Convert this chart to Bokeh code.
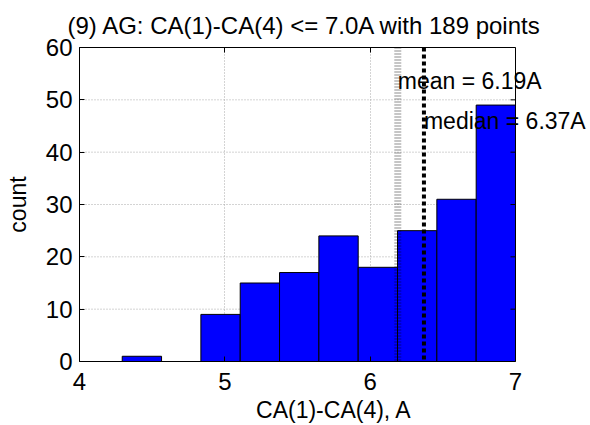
import numpy as np
from bokeh.plotting import figure
from bokeh.models import LinearAxis, Span, Label, FixedTicker, ColumnDataSource
from bokeh.embed import file_html
from bokeh.resources import INLINE

# ---- data ----
counts = [1, 0, 9, 15, 17, 24, 18, 25, 31, 49]
x_min = 4.294
x_max = 7.0
mean_val = 6.19
median_val = 6.37
mean_label_y = 53.6
median_label_y = 46.0
title_text = "(9) AG: CA(1)-CA(4) <= 7.0A with 189 points"
x_label = "CA(1)-CA(4), A"
y_label = "count"
x_ticks = [4, 5, 6, 7]
y_ticks = [0, 10, 20, 30, 40, 50, 60]

FONT = "Liberation Sans"

# layout (pixels): axes box 436 px wide, frame extended to the right so
# the median annotation can run past the box as in the reference
BOX_W = 436
FRAME_W = 509
x_lo, x_hi = x_ticks[0], x_ticks[-1]
x_end = x_lo + (x_hi - x_lo) * FRAME_W / BOX_W
px = (x_end - x_lo) / FRAME_W  # data units per pixel

edges = np.linspace(x_min, x_max, len(counts) + 1)
src = ColumnDataSource(dict(left=edges[:-1], right=edges[1:],
                            top=counts, bottom=[0] * len(counts)))

p = figure(frame_width=FRAME_W, frame_height=314, x_range=(x_lo, x_end),
           y_range=(y_ticks[0], y_ticks[-1]),
           output_backend="svg", toolbar_location=None,
           min_border_left=79, min_border_right=0,
           min_border_top=47, min_border_bottom=62,
           background_fill_color="white", border_fill_color="white")
p.outline_line_color = None

# horizontal dotted grid lines (limited to the box)
gy = y_ticks[1:-1]
p.segment(x0=[x_lo] * len(gy), x1=[x_hi] * len(gy), y0=gy, y1=gy,
          line_color="#a8a8a8", line_dash="1 2", line_width=1)

p.quad(left="left", right="right", top="top", bottom="bottom", source=src,
       fill_color="#0000FF", line_color="black", line_width=1)

# right border of the box and its inward ticks
p.segment(x0=[x_hi], x1=[x_hi], y0=[y_ticks[0]], y1=[y_ticks[-1]],
          line_color="black", line_width=1)
p.segment(x0=[x_hi] * len(gy), x1=[x_hi - 5 * px] * len(gy), y0=gy, y1=gy,
          line_color="black", line_width=1)

# mean / median lines
p.add_layout(Span(location=mean_val, dimension="height", line_color="black",
                  line_alpha=0.45, line_width=7, line_dash="1 2"))
p.add_layout(Span(location=median_val, dimension="height", line_color="black",
                  line_width=4, line_dash="4 3"))

p.add_layout(Label(x=mean_val, y=mean_label_y, text="mean = %.2fA" % mean_val,
                   text_font=FONT, text_font_size="23px", text_baseline="middle",
                   text_align="left", text_color="black"))
p.add_layout(Label(x=median_val, y=median_label_y, text="median = %.2fA" % median_val,
                   text_font=FONT, text_font_size="23px", text_baseline="middle",
                   text_align="left", text_color="black"))

# title
p.title.text = title_text
p.title.align = "left"
p.title.offset = -12
p.title.standoff = 18
p.title.text_font = FONT
p.title.text_font_size = "24px"
p.title.text_font_style = "normal"
p.title.text_color = "black"

# axes
for ax, ticks in ((p.xaxis[0], x_ticks), (p.yaxis[0], y_ticks)):
    ax.ticker = FixedTicker(ticks=ticks)
    ax.major_tick_in = 5
    ax.major_tick_out = 0
    ax.minor_tick_line_color = None
    ax.axis_line_color = "black"
    ax.major_tick_line_color = "black"
    ax.major_label_text_font = FONT
    ax.major_label_text_font_size = "24px"
    ax.major_label_text_color = "black"
    ax.axis_label_text_font = FONT
    ax.axis_label_text_font_size = "23px"
    ax.axis_label_text_font_style = "normal"
    ax.axis_label_text_color = "black"

p.xaxis.bounds = (x_lo, x_hi)
p.xaxis.axis_label = x_label
p.yaxis.axis_label = y_label
p.xaxis.major_label_standoff = 11
p.yaxis.major_label_standoff = 7
p.xaxis.axis_label_standoff = 4
p.yaxis.axis_label_standoff = 12

# top border of the box with mirrored ticks (no labels)
top_ax = LinearAxis(ticker=FixedTicker(ticks=x_ticks), bounds=(x_lo, x_hi),
                    major_label_text_font_size="0px", major_label_text_color=None,
                    major_tick_in=5, major_tick_out=0, minor_tick_line_color=None,
                    axis_line_color="black", major_label_standoff=0)
p.add_layout(top_ax, "above")

# grid
p.xgrid.ticker = FixedTicker(ticks=x_ticks[1:-1])
p.xgrid.grid_line_color = "#a8a8a8"
p.xgrid.grid_line_dash = "1 2"
p.xgrid.grid_line_width = 1
p.ygrid.grid_line_color = None

open("out.html", "w").write(file_html(p, INLINE))
